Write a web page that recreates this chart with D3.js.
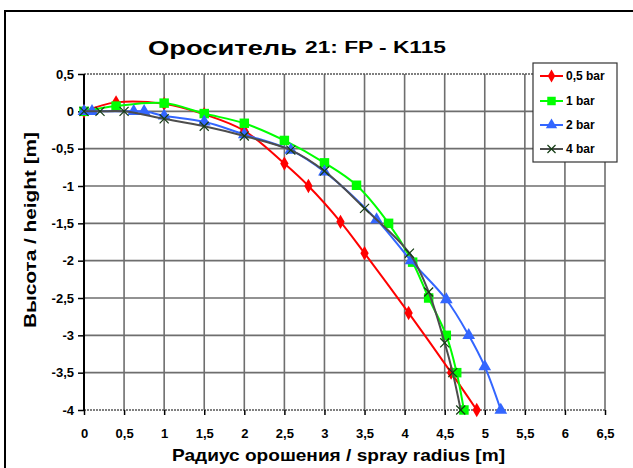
<!DOCTYPE html>
<html><head><meta charset="utf-8">
<script src="https://cdn.jsdelivr.net/npm/d3@7"></script>
<style>
html,body{margin:0;padding:0;background:#fff;}
svg{display:block;font-family:"Liberation Sans",Arial,sans-serif;font-weight:bold;}
</style></head>
<body>
<svg id="chart" width="633" height="468"></svg>
<script>
// ---- data ----
const seriesNames = ["0,5 bar", "1 bar", "2 bar", "4 bar"];
const radius05 = [0, 0.4, 1, 1.5, 2, 2.5, 2.8, 3.2, 3.5, 4.05, 4.58, 4.9];
const height05 = [0, 0.12, 0.1, -0.04, -0.26, -0.7, -1.0, -1.48, -1.9, -2.7, -3.5, -4.0];
const radius1 = [0, 0.4, 1, 1.5, 2, 2.5, 3, 3.4, 3.8, 4.1, 4.3, 4.52, 4.65, 4.74];
const height1 = [0, 0.07, 0.11, -0.03, -0.16, -0.39, -0.69, -0.99, -1.5, -2.02, -2.5, -3.0, -3.5, -4.0];
const radius2 = [0, 0.1, 0.62, 0.75, 1, 1.5, 2, 2.58, 3, 3.65, 4.08, 4.52, 4.8, 5.0, 5.2];
const height2 = [0, 0, 0, 0, -0.06, -0.14, -0.31, -0.52, -0.81, -1.45, -2.0, -2.52, -3.0, -3.42, -4.0];
const radius4 = [0, 0.2, 0.5, 1, 1.5, 2, 2.58, 3, 3.5, 4.06, 4.3, 4.5, 4.6, 4.7];
const height4 = [0, 0, 0, -0.1, -0.2, -0.33, -0.52, -0.8, -1.3, -1.9, -2.42, -3.1, -3.5, -4.0];
const xTicks = [0, 0.5, 1, 1.5, 2, 2.5, 3, 3.5, 4, 4.5, 5, 5.5, 6, 6.5];
const yTicks = [0.5, 0, -0.5, -1, -1.5, -2, -2.5, -3, -3.5, -4];

// ---- layout ----
const svg = d3.select("#chart");
const L = 84, R = 605, T = 74, B = 410;
const x = d3.scaleLinear().domain([0, 6.5]).range([L, R]);
const y = d3.scaleLinear().domain([-4, 0.5]).range([B, T]);
const fmt = v => String(v).replace(".", ",");

// outer frame
svg.append("rect").attr("x", 5).attr("y", 11).attr("width", 700).attr("height", 500)
  .attr("fill", "#fff").attr("stroke", "#000").attr("stroke-width", 2);

// title
svg.append("text").attr("x", 148).attr("y", 55).attr("font-size", 21)
  .attr("textLength", 149).attr("lengthAdjust", "spacingAndGlyphs").text("Ороситель");
svg.append("text").attr("x", 305).attr("y", 53).attr("font-size", 16)
  .attr("textLength", 141).attr("lengthAdjust", "spacingAndGlyphs").text("21: FP - K115");

// grid
const g = svg.append("g");
g.selectAll("line.vg").data(xTicks.filter(d => d > 0)).join("line")
  .attr("x1", d => x(d)).attr("x2", d => x(d)).attr("y1", T).attr("y2", B)
  .attr("stroke", "#6e6e6e").attr("stroke-width", 1.6);
g.selectAll("line.hg").data(yTicks.filter(d => d < 0.5 && d > -4)).join("line")
  .attr("x1", L).attr("x2", R).attr("y1", d => y(d)).attr("y2", d => y(d))
  .attr("stroke", "#6e6e6e").attr("stroke-width", 1.6);
[0.5, -4].forEach(v => {
  g.append("line").attr("x1", L).attr("x2", R).attr("y1", y(v)).attr("y2", y(v))
    .attr("stroke", "#555").attr("stroke-width", 1.6).attr("stroke-dasharray", "2,1");
});

// axes
const yAxis = d3.axisLeft(y).tickValues(yTicks).tickFormat(fmt).tickSize(6).tickPadding(4);
const ya = svg.append("g").attr("transform", `translate(${L},0)`).call(yAxis);
const xAxis = d3.axisBottom(x).tickValues(xTicks).tickFormat(fmt).tickSize(5).tickPadding(14);
const xa = svg.append("g").attr("transform", `translate(0,${B})`).call(xAxis);
[ya, xa].forEach(a => {
  a.select(".domain").remove();
  a.selectAll("line").attr("stroke", "#000").attr("stroke-width", 1.5);
  a.selectAll("text").attr("font-size", 13).attr("font-weight", "bold")
    .attr("font-family", "'Liberation Sans',Arial,sans-serif").attr("fill", "#000");
});
svg.append("line").attr("x1", L).attr("x2", L).attr("y1", T).attr("y2", B + 1)
  .attr("stroke", "#000").attr("stroke-width", 2);

// axis titles
svg.append("text").attr("x", 172).attr("y", 461)
  .attr("font-size", 17).attr("textLength", 333).attr("lengthAdjust", "spacingAndGlyphs")
  .text("Радиус орошения / spray radius [m]");
svg.append("text").attr("transform", "translate(36,328) rotate(-90)")
  .attr("font-size", 16).attr("textLength", 196).attr("lengthAdjust", "spacingAndGlyphs")
  .text("Высота / height [m]");

// series
const series = [
  {name: seriesNames[0], xs: radius05, ys: height05, color: "#ff0000", sym: d3.symbolDiamond, size: 60, mfill: "#ff0000"},
  {name: seriesNames[1], xs: radius1, ys: height1, color: "#00ff00", sym: d3.symbolSquare, size: 90, mfill: "#00ff00"},
  {name: seriesNames[2], xs: radius2, ys: height2, color: "#3366ff", sym: d3.symbolTriangle, size: 70, mfill: "#3366ff"},
  {name: seriesNames[3], xs: radius4, ys: height4, color: "#4d4d4d", sym: d3.symbolX, size: 55, mfill: "none", mstroke: "#143c14"}
];
const line = d3.line().x(d => x(d[0])).y(d => y(d[1])).curve(d3.curveCatmullRom.alpha(0.5));
series.forEach(s => {
  const pts = s.xs.map((v, i) => [v, s.ys[i]]);
  const sg = svg.append("g");
  sg.append("path").datum(pts).attr("d", line).attr("fill", "none")
    .attr("stroke", s.color).attr("stroke-width", 2);
  sg.selectAll("path.m").data(pts).join("path").attr("class", "m")
    .attr("transform", d => `translate(${x(d[0])},${y(d[1])})`)
    .attr("d", d3.symbol().type(s.sym).size(s.size))
    .attr("fill", s.mfill)
    .attr("stroke", s.mstroke || "none").attr("stroke-width", s.mstroke ? 1.2 : 0);
});

// legend
const lg = svg.append("g");
lg.append("rect").attr("x", 533).attr("y", 63).attr("width", 84).attr("height", 99)
  .attr("fill", "#fff").attr("stroke", "#333").attr("stroke-width", 1.2);
const ly = [76, 101, 125, 149];
series.forEach((s, i) => {
  lg.append("line").attr("x1", 540).attr("x2", 563).attr("y1", ly[i]).attr("y2", ly[i])
    .attr("stroke", s.color).attr("stroke-width", 2);
  lg.append("path").attr("transform", `translate(551.5,${ly[i]})`)
    .attr("d", d3.symbol().type(s.sym).size(s.size * 0.8))
    .attr("fill", s.mfill).attr("stroke", s.mstroke || "none").attr("stroke-width", s.mstroke ? 1.2 : 0);
  lg.append("text").attr("x", 566).attr("y", ly[i] + 4).attr("font-size", 12).text(s.name);
});
</script>
</body></html>
